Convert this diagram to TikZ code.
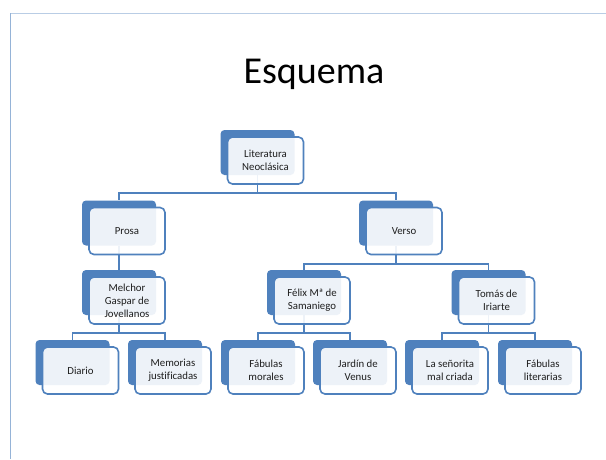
\documentclass[tikz,border=0pt]{standalone}
\usepackage{fontspec}
\setmainfont{Carlito}[Ligatures=NoCommon]
\usetikzlibrary{backgrounds}

\definecolor{smblue}{HTML}{4F81BD}
\definecolor{frametop}{HTML}{B9CDE5}
\definecolor{frameleft}{HTML}{95B3D7}
\definecolor{txtgray}{HTML}{1E1E1E}

\tikzset{
    backbox/.style={fill=smblue, rounded corners=4pt, minimum width=74pt, minimum height=45pt, inner sep=0pt},
    frontbox/.style={draw=smblue, line width=1.6pt, fill=white, fill opacity=0.9, text opacity=1,
        rounded corners=5pt, minimum width=76pt, minimum height=47pt, inner sep=0pt,
        align=center, text=txtgray, font=\fontsize{10.8}{12.8}\selectfont},
    conn/.style={draw=smblue, line width=1.6pt}
}

\begin{document}
\begin{tikzpicture}[x=1pt, y=-1pt]
    \useasboundingbox (0, 0) rectangle (606, 459);

    \draw[color=frametop, line width=1pt] (10, 13) -- (606, 13);
    \draw[color=frameleft, line width=1pt] (10, 13) -- (10, 459);

    \node[font=\fontsize{38}{40}\selectfont, anchor=base] (title) at (314, 83) {Esquema};

    % level 1
    \node[backbox] (lit) at (257.5, 152.5) {};
    \node[frontbox] (lit-t) at (265.5, 160.5) {Literatura\\Neoclásica};

    % level 2
    \node[backbox] (prosa) at (119, 223) {};
    \node[frontbox] (prosa-t) at (127, 231) {Prosa};

    \node[backbox] (verso) at (396, 223) {};
    \node[frontbox] (verso-t) at (404, 231) {Verso};

    % level 3
    \node[backbox] (jove) at (119, 292.5) {};
    \node[frontbox] (jove-t) at (127, 300.5) {Melchor\\Gaspar de\\Jovellanos};

    \node[backbox] (sama) at (304, 292.5) {};
    \node[frontbox] (sama-t) at (312, 300.5) {Félix Mª de\\Samaniego};

    \node[backbox] (iriarte) at (488.5, 292.5) {};
    \node[frontbox] (iriarte-t) at (496.5, 300.5) {Tomás de\\Iriarte};

    % level 4
    \node[backbox] (diario) at (72.5, 362.5) {};
    \node[frontbox] (diario-t) at (80.5, 370.5) {Diario};

    \node[backbox] (memo) at (165, 362.5) {};
    \node[frontbox] (memo-t) at (173, 370.5) {Memorias\\justificadas};

    \node[backbox] (fabmor) at (258, 362.5) {};
    \node[frontbox] (fabmor-t) at (266, 370.5) {Fábulas\\morales};

    \node[backbox] (jardin) at (350, 362.5) {};
    \node[frontbox] (jardin-t) at (358, 370.5) {Jardín de\\Venus};

    \node[backbox] (senorita) at (442, 362.5) {};
    \node[frontbox] (senorita-t) at (450, 370.5) {La señorita\\mal criada};

    \node[backbox] (fablit) at (535, 362.5) {};
    \node[frontbox] (fablit-t) at (543, 370.5) {Fábulas\\literarias};

    \begin{scope}[on background layer]
        \fill[white] (0, 0) rectangle (606, 459);

        \draw[conn] (lit.south) -- ++(0, 18) -| (prosa.north);
        \draw[conn] (lit.south) -- ++(0, 18) -| (verso.north);

        \draw[conn] (prosa.south) -- (jove.north);
        \draw[conn] (verso.south) -- ++(0, 18) -| (sama.north);
        \draw[conn] (verso.south) -- ++(0, 18) -| (iriarte.north);

        \draw[conn] (jove.south) -- ++(0, 18) -| (diario.north);
        \draw[conn] (jove.south) -- ++(0, 18) -| (memo.north);
        \draw[conn] (sama.south) -- ++(0, 18) -| (fabmor.north);
        \draw[conn] (sama.south) -- ++(0, 18) -| (jardin.north);
        \draw[conn] (iriarte.south) -- ++(0, 18) -| (senorita.north);
        \draw[conn] (iriarte.south) -- ++(0, 18) -| (fablit.north);
    \end{scope}
\end{tikzpicture}
\end{document}
